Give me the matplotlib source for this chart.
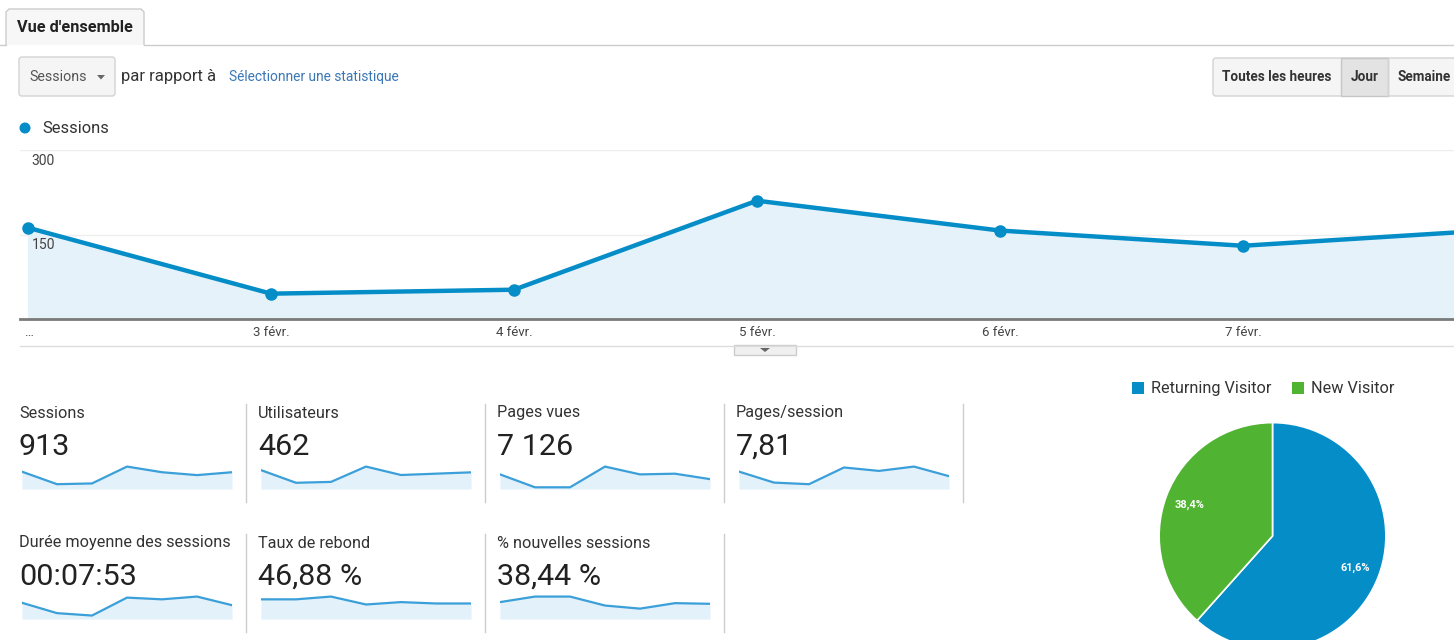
import matplotlib
matplotlib.use("Agg")
import matplotlib.pyplot as plt
from matplotlib.patches import Rectangle, FancyBboxPatch, Polygon, Circle

plt.rcParams['font.family'] = ['Roboto', 'DejaVu Sans']

# main chart data (Sessions per day)
days = ['…', '3 févr.', '4 févr.', '5 févr.', '6 févr.', '7 févr.', '8 févr.']
sessions = [162, 45, 52, 210, 157, 130, 157]
y_ticks = [150, 300]

# metric tiles
metric_names = ['Sessions', 'Utilisateurs', 'Pages vues', 'Pages/session',
                'Durée moyenne des sessions', 'Taux de rebond', '% nouvelles sessions']
metric_values = ['913', '462', '7 126', '7,81', '00:07:53', '46,88 %', '38,44 %']
spark_users = [85, 28, 32, 101, 63, 69, 75]
spark_pageviews = [1298, 150, 150, 1993, 1298, 1360, 877]
spark_pps = [7.6, 2.8, 2.1, 9.4, 7.9, 9.8, 5.6]
spark_duration = [470, 170, 100, 620, 570, 650, 400]
spark_bounce = [52.6, 52.6, 60.0, 38.8, 45.2, 41.5, 41.5]
spark_new = [43.7, 58.0, 58.0, 34.8, 26.8, 41.0, 39.3]
sparks = [sessions, spark_users, spark_pageviews, spark_pps,
          spark_duration, spark_bounce, spark_new]

# pie
visitor_types = ['Returning Visitor', 'New Visitor']
visitor_share = [61.6, 38.4]

BLUE = '#058dc7'
GREEN = '#50b432'
W, H = 1454, 640


def rect(x0, y0, x1, y1):
    return [x0 / W, 1 - y1 / H, (x1 - x0) / W, (y1 - y0) / H]


def pt(px):
    return px * 0.72


fig = plt.figure(figsize=(W / 100, H / 100), dpi=100)

# background layer in pixel coordinates for the page chrome
bg = fig.add_axes([0, 0, 1, 1])
bg.set_xlim(0, W)
bg.set_ylim(H, 0)
bg.axis('off')

# tab
bg.plot([0, 6], [44.5, 44.5], color='#cccccc', lw=1)
bg.plot([144, W], [44.5, 44.5], color='#cccccc', lw=1)
bg.add_patch(Polygon([(6, 45), (6, 12), (9, 9), (141, 9), (144, 12), (144, 45)],
                     closed=False, fc='#f7f7f7', ec='#cccccc', lw=1))
bg.text(75, 27, "Vue d'ensemble", fontsize=pt(16.2), fontweight='bold', color='#222222',
        ha='center', va='center')

# metric selector
bg.add_patch(FancyBboxPatch((19, 57), 96, 39, boxstyle='round,pad=0,rounding_size=3',
                            fc='#f5f5f5', ec='#d3d3d3', lw=1))
bg.text(29, 77, 'Sessions', fontsize=pt(14.2), color='#555555', va='center')
bg.add_patch(Polygon([(97, 75), (105, 75), (101, 79.5)], fc='#666666', ec='none'))
bg.text(121, 76, 'par rapport à', fontsize=pt(16.6), color='#333333', va='center')
bg.text(229, 77, 'Sélectionner une statistique', fontsize=pt(13.8), color='#3a77b6',
        va='center')

# period buttons
bg.add_patch(FancyBboxPatch((1213, 58), 260, 38, boxstyle='round,pad=0,rounding_size=3',
                            fc='#f5f5f5', ec='#d3d3d3', lw=1))
bg.add_patch(Rectangle((1341, 58), 47, 38, fc='#e3e3e3', ec='#c6c6c6', lw=1))
bg.plot([1388, 1388], [58, 96], color='#d3d3d3', lw=1)
bg.text(1277, 77, 'Toutes les heures', fontsize=pt(13.5), fontweight='bold',
        color='#333333', ha='center', va='center')
bg.text(1365, 77, 'Jour', fontsize=pt(13.5), fontweight='bold', color='#333333',
        ha='center', va='center')
bg.text(1398, 77, 'Semaine', fontsize=pt(13.5), fontweight='bold', color='#333333',
        va='center')

# chart legend
bg.add_patch(Circle((25, 128), 5.5, fc=BLUE, ec='none'))
bg.text(42, 128.5, 'Sessions', fontsize=pt(16.5), color='#333333', va='center')

# bottom border of chart and collapse toggle
bg.plot([20, W], [345.5, 345.5], color='#dddddd', lw=1)
bg.add_patch(Rectangle((734, 345), 62, 10, fc='#f0f0f0', ec='#cccccc', lw=1))
bg.add_patch(Polygon([(760, 348), (770, 348), (765, 352)], fc='#666666', ec='none'))

# main line chart
ax = fig.add_axes(rect(20, 150, W, 319))
x = list(range(len(sessions)))
ax.fill_between(x, sessions, 0, color='#e5f2f9', lw=0)
ax.plot(x, sessions, color=BLUE, lw=3.2, marker='o', markersize=8, zorder=3)
ax.set_xlim(-8 / 243, (W - 28) / 243)
ax.set_ylim(0, 300)
for s in ['top', 'right', 'left']:
    ax.spines[s].set_visible(False)
ax.spines['bottom'].set_color('#7a7a7a')
ax.spines['bottom'].set_linewidth(2)
ax.set_yticks(y_ticks)
ax.set_yticklabels([])
ax.tick_params(axis='y', length=0)
ax.grid(axis='y', color='#eeeeee', lw=1)
ax.set_axisbelow(True)
for v in y_ticks:
    ax.text(0.008, v - 7, str(v), transform=ax.get_yaxis_transform(),
            fontsize=pt(14), color='#444444', va='top', ha='left')
ax.set_xticks(x[:6])
ax.set_xticklabels(days[:6], fontsize=pt(13.3), color='#444444')
ax.tick_params(axis='x', length=0, pad=5)

# metric tiles
col_x = [19, 258, 497, 736]
rows = [(413, 447, 465, 489, 404, 502), (543, 577, 595, 619, 534, 632)]
for i, (name, val, data) in enumerate(zip(metric_names, metric_values, sparks)):
    r, c = divmod(i, 4)
    ty, vy, sy0, sy1, dy0, dy1 = rows[r]
    x0 = col_x[c]
    bg.text(x0, ty, name, fontsize=pt(16.2), color='#333333', va='center')
    bg.text(x0, vy, val, fontsize=pt(30.5), color='#222222', va='center')
    bg.plot([x0 + 226.5, x0 + 226.5], [dy0, dy1], color='#cccccc', lw=1)
    sp = fig.add_axes(rect(x0 + 3, sy0, x0 + 213, sy1))
    sp.fill_between(range(len(data)), data, 0, color='#e3f1fa', lw=0)
    sp.plot(range(len(data)), data, color='#3b9fd9', lw=1.6)
    sp.set_xlim(0, len(data) - 1)
    sp.set_ylim(0, max(data) * 1.07)
    sp.axis('off')

# pie legend
leg_x = [1138, 1298]
for lx, name, col in zip(leg_x, visitor_types, [BLUE, GREEN]):
    bg.add_patch(Rectangle((lx - 6, 382), 12, 12, fc=col, ec='none'))
    bg.text(lx + 13, 388.5, name, fontsize=pt(16.2), color='#333333', va='center')

# pie chart
pa = fig.add_axes(rect(1158, 421.5, 1387, 650.5))
pa.pie(visitor_share, colors=[BLUE, GREEN], startangle=90, counterclock=False,
       autopct=lambda p: f'{p:.1f}%'.replace('.', ','), pctdistance=0.78,
       wedgeprops=dict(edgecolor='white', linewidth=1.2),
       textprops=dict(color='white', fontsize=pt(11), fontweight='bold'))
pa.set_aspect('equal')
pa.set_xlim(-1.01, 1.01)
pa.set_ylim(-1.01, 1.01)

fig.savefig('out.png', dpi=100)
